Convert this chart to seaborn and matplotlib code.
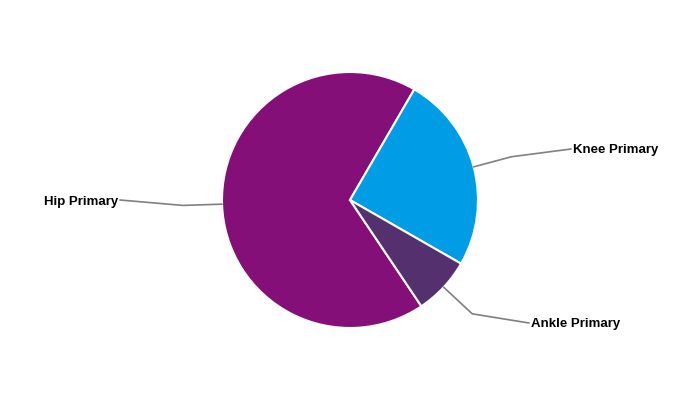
import matplotlib
matplotlib.use("Agg")
import matplotlib.pyplot as plt
import seaborn as sns
import numpy as np

categories = ["Hip Primary", "Knee Primary", "Ankle Primary"]
values = [67.8, 24.9, 7.3]
colors_hex = ["#840f79", "#009de6", "#55306f"]

sns.set_theme(style="white")
plt.rcParams['font.family'] = ['Liberation Sans', 'DejaVu Sans']

W, H = 700, 400
fig = plt.figure(figsize=(7, 4), dpi=100)
ax = fig.add_axes([0, 0, 1, 1])
cx, cy, R = 350, 200, 128
wedges, _ = ax.pie(values, colors=sns.color_palette(colors_hex), startangle=-56.1,
                   counterclock=False, center=(cx, H - cy), radius=R,
                   wedgeprops=dict(edgecolor='white', linewidth=1.5))
ax.set_xlim(0, W)
ax.set_ylim(0, H)
ax.set_aspect('equal')
ax.axis('off')

# label anchor positions (pixel coords) and alignment
label_pos = {"Hip Primary": (120, 200, 'right'),
             "Knee Primary": (571, 149, 'left'),
             "Ankle Primary": (529, 323, 'left')}

for w, cat in zip(wedges, categories):
    th = np.deg2rad((w.theta1 + w.theta2) / 2)
    ux, uy = np.cos(th), np.sin(th)
    x0, y0 = cx + R * ux, (H - cy) + R * uy
    x1, y1 = cx + 1.305 * R * ux, (H - cy) + 1.305 * R * uy
    lx, ly, ha = label_pos[cat]
    ly = H - ly
    ax.plot([x0, x1, lx], [y0, y1, ly], color='#808080', lw=1.2,
            solid_joinstyle='miter', zorder=1)
    tx = lx + 2 if ha == 'left' else lx - 2
    ax.text(tx, ly - 1.5, cat, ha=ha, va='center', fontsize=9.5,
            fontweight='bold', color='black')

fig.savefig("out.png", dpi=100)
